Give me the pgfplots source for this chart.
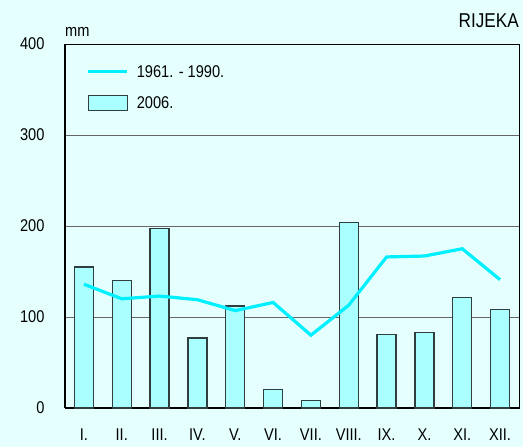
\documentclass[border=0pt]{standalone}
\usepackage{pgfplots}
\pgfplotsset{compat=1.18}
\usepackage{fontspec}
\setmainfont{Liberation Sans}[FakeStretch=0.86]
\definecolor{bg}{HTML}{E5FFFF}
\definecolor{barfill}{HTML}{AAFFFF}
\definecolor{baredge}{HTML}{2F3F3F}
\definecolor{linec}{HTML}{00F0FF}
\begin{document}
\begin{tikzpicture}
\fill[bg] (0,0) rectangle (523pt,447pt);
\begin{axis}[
  at={(65pt,39pt)}, anchor=south west,
  scale only axis, width=454pt, height=364pt,
  xmin=0.5, xmax=12.5, ymin=0, ymax=400,
  xtick={1,...,12},
  xticklabels={I.,II.,III.,IV.,V.,VI.,VII.,VIII.,IX.,X.,XI.,XII.},
  ytick={0,100,200,300,400},
  major tick length=0pt,
  ymajorgrids, grid style={draw=black!60, line width=0.9pt},
  axis line style={black, line width=0.7pt},
  font=\fontsize{17}{19}\selectfont,
  yticklabel style={xshift=-17pt},
  xticklabel style={yshift=-17pt},
  /pgf/number format/assume math mode=true,
  legend style={at={(rel axis cs:0.041,0.953)}, anchor=north west, draw=none, fill=none,
     row sep=14pt, font=\fontsize{17}{19}\selectfont,
     /tikz/every odd column/.append style={column sep=6pt}},
  legend cell align=left,
  clip=false,
]
\draw[black, line width=2pt] (rel axis cs:0,0) -- (rel axis cs:1,0);
\draw[black, line width=1.5pt] (rel axis cs:0,0) -- (rel axis cs:0,1);
\addlegendimage{legend image code/.code={\draw[linec, line width=3pt] (0pt,0pt) -- (39pt,0pt);}}
\addlegendentry{1961. - 1990.}
\addlegendimage{legend image code/.code={\draw[baredge, fill=barfill, line width=1pt] (0pt,-7.5pt) rectangle (39pt,7.5pt);}}
\addlegendentry{2006.}
\addplot[ybar, bar width=19pt, fill=barfill, draw=baredge, line width=1.2pt, forget plot] coordinates {
 (1,155) (2,140) (3,197) (4,77) (5,112) (6,20) (7,8) (8,204) (9,81) (10,83) (11,121) (12,108)};
\addplot[linec, line width=3.2pt, forget plot] coordinates {
 (1,136) (2,120) (3,123) (4,119) (5,107) (6,116) (7,80) (8,113) (9,166) (10,167) (11,175) (12,141)};
\node[anchor=south west, inner sep=0pt] at (rel axis cs:0,1.02) {\fontsize{17}{19}\selectfont mm};
\node[anchor=south east, inner sep=0pt] at (rel axis cs:1,1.045) {\fontsize{20}{22}\selectfont RIJEKA};
\end{axis}
\end{tikzpicture}
\end{document}
